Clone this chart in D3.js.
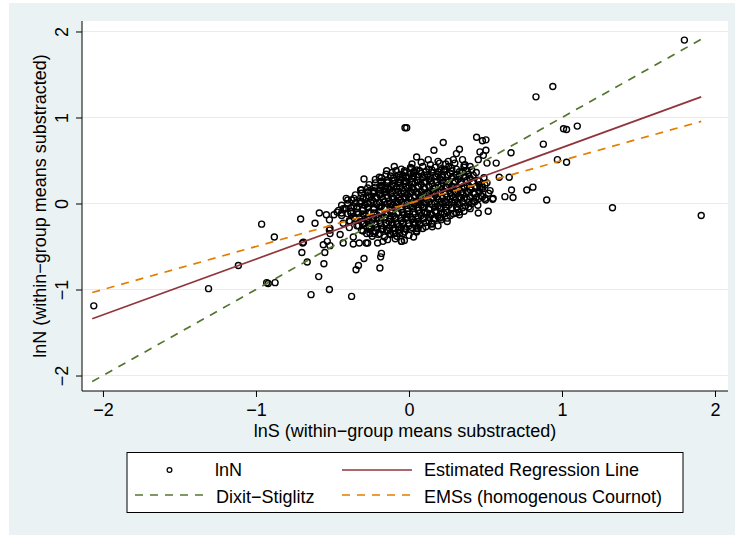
<!DOCTYPE html>
<html>
<head>
<meta charset="utf-8">
<script src="https://cdn.jsdelivr.net/npm/d3@7"></script>
<style>
  body { margin: 0; background: #ffffff; }
  svg text { font-family: "Liberation Sans", Arial, sans-serif; fill: #000; }
</style>
</head>
<body>
<svg id="chart" width="735" height="535"></svg>
<script>
// tick values
const xTicks = [-2, -1, 0, 1, 2];
const yTicks = [-2, -1, 0, 1, 2];

// fitted lines: lnN at the two ends of the lnS range
const lineX = [-2.07, 1.91];
const regY  = [-1.34, 1.24];    // estimated regression line
const dsY   = [-2.07, 1.91];    // Dixit-Stiglitz
const emsY  = [-1.035, 0.955];  // EMSs (homogenous Cournot)

// lnS, lnN pairs (within-group means substracted)
const outerPts = [
  [-2.06,-1.19],[-1.31,-0.99],[-1.115,-0.72],[-0.963,-0.24],[-0.93,-0.92],[-0.92,-0.93],[-0.875,-0.92],[-0.88,-0.39],
  [-0.708,-0.18],[-0.695,-0.46],[-0.69,-0.45],[-0.70,-0.57],[-0.665,-0.68],[-0.64,-1.06],[-0.614,-0.23],[-0.59,-0.85],
  [-0.586,-0.11],[-0.556,-0.70],[-0.52,-1.0],[-0.55,-0.57],[-0.56,-0.48],[-0.534,-0.44],[-0.516,-0.49],[-0.516,-0.35],
  [-0.516,-0.29],[-0.54,-0.13],[-0.49,-0.13],[-0.47,-0.10],[-0.52,-0.19],[-0.52,-0.31],
  [-0.375,-1.08],[-0.346,-0.77],[-0.33,-0.72],[-0.294,-0.64],[-0.43,-0.46],[-0.364,-0.47],[-0.325,-0.46],[-0.45,-0.36],
  [-0.364,-0.39],[-0.277,-0.35],[-0.28,-0.46],[-0.39,-0.28],[-0.33,-0.26],[-0.294,-0.23],[-0.41,-0.06],[-0.43,-0.23],
  [-0.386,-0.21],[-0.31,-0.31],[-0.43,-0.06],[-0.44,-0.11],
  [-0.27,-0.46],[-0.255,-0.35],[-0.205,-0.46],[-0.19,-0.75],[-0.18,-0.58],[-0.185,-0.62],[-0.17,-0.44],[-0.125,-0.35],
  [-0.10,-0.35],[-0.05,-0.44],[-0.23,-0.35],[-0.255,-0.26],[-0.19,-0.35],[-0.146,-0.31],[-0.09,-0.35],[-0.06,-0.35],
  [-0.026,-0.29],[-0.048,-0.44],
  [-0.026,0.88],[-0.015,0.88],[-0.294,0.285],[-0.194,0.305],[-0.183,0.25],[-0.146,0.38],[-0.096,0.43],[-0.085,0.38],
  [-0.059,0.305],[-0.015,0.305],[-0.316,0.157],[-0.41,0.06],[-0.375,0.04],[-0.266,0.137],[-0.235,0.12],[-0.19,0.157],
  [-0.157,0.175],[-0.124,0.165],[-0.08,0.19],[-0.059,0.235],[-0.026,0.255],
  [0.442,0.77],[0.48,0.73],[0.503,0.74],[0.224,0.71],[0.163,0.62],[0.05,0.54],[0.126,0.51],[0.33,0.63],[0.31,0.58],
  [0.29,0.51],[0.35,0.51],[0.464,0.6],[0.503,0.62],[0.486,0.56],[0.453,0.51],[0.51,0.47],[0.57,0.47],[0.667,0.59],
  [0.2,0.47],[0.257,0.49],[0.366,0.45],[0.4,0.43],[0.28,0.41],[0.235,0.39],[0.017,0.41],[0.03,0.35],[0.59,0.305],
  [0.655,0.305],[0.67,0.157],[0.77,0.157],[0.81,0.19],[0.497,0.215],[0.464,0.18],[0.627,0.08],[0.68,0.07],[0.55,0.06],
  [0.497,0.06],[0.9,0.04],[0.878,0.69],[0.547,0.05],[0.518,-0.09],[0.453,-0.11],[0.33,-0.13],[0.152,-0.27],[0.2,-0.17],
  [0.06,-0.29],[0.05,-0.33],
  [1.80,1.90],[0.94,1.36],[0.83,1.24],[1.01,0.87],[1.03,0.86],[1.10,0.90],[0.97,0.51],[1.03,0.48],[1.33,-0.05],[1.91,-0.14]
];

const corePts = [
  [0.02,0.46],[0.08,0.48],[0.14,0.45],[0.19,0.49],[0.24,0.46],[0.30,0.47],[0.36,0.44],
  [-0.05,0.40],[0.01,0.42],[0.05,0.39],[0.09,0.43],[0.13,0.40],[0.17,0.42],[0.21,0.39],[0.26,0.43],[0.31,0.40],[0.36,0.42],[0.41,0.39],
  [-0.15,0.34],[-0.11,0.36],[-0.07,0.33],[-0.03,0.36],[0.01,0.34],[0.04,0.37],[0.08,0.35],[0.12,0.33],[0.15,0.36],[0.19,0.34],
  [0.23,0.37],[0.27,0.35],[0.31,0.33],[0.35,0.36],[0.39,0.34],[0.44,0.36],
  [-0.22,0.28],[-0.18,0.30],[-0.14,0.27],[-0.10,0.30],[-0.06,0.28],[-0.02,0.31],[0.02,0.29],[0.05,0.27],[0.09,0.30],[0.13,0.28],
  [0.17,0.31],[0.20,0.29],[0.24,0.27],[0.28,0.30],[0.32,0.28],[0.36,0.31],[0.40,0.29],[0.45,0.27],[0.49,0.30],
  [-0.26,0.22],[-0.22,0.24],[-0.18,0.21],[-0.14,0.24],[-0.11,0.22],[-0.07,0.25],[-0.03,0.23],[0.00,0.21],[0.04,0.24],[0.08,0.22],
  [0.11,0.25],[0.15,0.23],[0.19,0.21],[0.22,0.24],[0.26,0.22],[0.30,0.25],[0.34,0.23],[0.38,0.21],[0.42,0.24],[0.46,0.22],[0.51,0.24],
  [-0.31,0.16],[-0.27,0.18],[-0.23,0.15],[-0.19,0.18],[-0.15,0.16],[-0.12,0.19],[-0.08,0.17],[-0.04,0.15],[-0.01,0.18],[0.03,0.16],
  [0.06,0.19],[0.10,0.17],[0.14,0.15],[0.17,0.18],[0.21,0.16],[0.25,0.19],[0.28,0.17],[0.32,0.15],[0.36,0.18],[0.40,0.16],
  [0.44,0.19],[0.48,0.17],[0.53,0.15],
  [-0.35,0.10],[-0.31,0.12],[-0.27,0.09],[-0.23,0.12],[-0.19,0.10],[-0.16,0.13],[-0.12,0.11],[-0.08,0.09],[-0.05,0.12],[-0.01,0.10],
  [0.02,0.13],[0.06,0.11],[0.09,0.09],[0.13,0.12],[0.17,0.10],[0.20,0.13],[0.24,0.11],[0.28,0.09],[0.31,0.12],[0.35,0.10],
  [0.39,0.13],[0.43,0.11],[0.47,0.09],[0.52,0.12],
  [-0.40,0.04],[-0.36,0.06],[-0.32,0.03],[-0.28,0.06],[-0.24,0.04],[-0.21,0.07],[-0.17,0.05],[-0.13,0.03],[-0.10,0.06],[-0.06,0.04],
  [-0.02,0.07],[0.01,0.05],[0.05,0.03],[0.08,0.06],[0.12,0.04],[0.16,0.07],[0.19,0.05],[0.23,0.03],[0.27,0.06],[0.30,0.04],
  [0.34,0.07],[0.38,0.05],[0.42,0.03],[0.46,0.06],[0.50,0.04],
  [-0.44,-0.02],[-0.40,0.00],[-0.36,-0.03],[-0.32,0.00],[-0.29,-0.02],[-0.25,0.01],[-0.21,-0.01],[-0.18,-0.03],[-0.14,0.00],
  [-0.10,-0.02],[-0.07,0.01],[-0.03,-0.01],[0.01,-0.03],[0.04,0.00],[0.08,-0.02],[0.11,0.01],[0.15,-0.01],[0.19,-0.03],
  [0.22,0.00],[0.26,-0.02],[0.30,0.01],[0.33,-0.01],[0.37,-0.03],[0.41,0.00],[0.45,-0.02],
  [-0.46,-0.08],[-0.42,-0.06],[-0.38,-0.09],[-0.34,-0.06],[-0.30,-0.08],[-0.27,-0.05],[-0.23,-0.07],[-0.19,-0.09],[-0.16,-0.06],
  [-0.12,-0.08],[-0.08,-0.05],[-0.05,-0.07],[-0.01,-0.09],[0.03,-0.06],[0.06,-0.08],[0.10,-0.05],[0.13,-0.07],[0.17,-0.09],
  [0.21,-0.06],[0.24,-0.08],[0.28,-0.05],[0.32,-0.07],[0.36,-0.09],[0.40,-0.06],
  [-0.44,-0.14],[-0.40,-0.12],[-0.36,-0.15],[-0.33,-0.12],[-0.29,-0.14],[-0.25,-0.11],[-0.21,-0.13],[-0.18,-0.15],[-0.14,-0.12],
  [-0.10,-0.14],[-0.07,-0.11],[-0.03,-0.13],[0.01,-0.15],[0.04,-0.12],[0.08,-0.14],[0.12,-0.11],[0.15,-0.13],[0.19,-0.15],
  [0.23,-0.12],[0.27,-0.14],[0.31,-0.11],
  [-0.39,-0.20],[-0.35,-0.18],[-0.31,-0.21],[-0.27,-0.18],[-0.24,-0.20],[-0.20,-0.17],[-0.16,-0.19],[-0.13,-0.21],[-0.09,-0.18],
  [-0.05,-0.20],[-0.02,-0.17],[0.02,-0.19],[0.06,-0.21],[0.09,-0.18],[0.13,-0.20],[0.17,-0.17],[0.21,-0.19],[0.25,-0.21],
  [-0.34,-0.26],[-0.30,-0.24],[-0.26,-0.27],[-0.22,-0.24],[-0.18,-0.26],[-0.15,-0.23],[-0.11,-0.25],[-0.07,-0.27],[-0.04,-0.24],
  [0.00,-0.26],[0.04,-0.23],[0.07,-0.25],[0.11,-0.27],[0.15,-0.24],[0.19,-0.26],
  [-0.30,-0.32],[-0.26,-0.30],[-0.22,-0.33],[-0.18,-0.30],[-0.14,-0.32],[-0.10,-0.29],[-0.07,-0.31],[-0.03,-0.33],[0.01,-0.30],
  [0.05,-0.32],[0.09,-0.29],
  [-0.24,-0.38],[-0.20,-0.36],[-0.16,-0.39],[-0.12,-0.36],[-0.08,-0.38],[-0.04,-0.35],[0.00,-0.37],[0.03,-0.39],
  [-0.14,-0.42],[-0.09,-0.41],[-0.03,-0.43]
];

// the thickest part of the cloud, between the rows above
const densePts = [
  [-0.03,0.38],[0.03,0.37],[0.07,0.38],[0.11,0.37],[0.15,0.39],[0.19,0.37],[0.23,0.40],[0.28,0.38],[0.33,0.37],[0.38,0.38],
  [-0.12,0.32],[-0.08,0.31],[-0.04,0.33],[0.00,0.31],[0.03,0.32],[0.06,0.31],[0.10,0.33],[0.14,0.31],[0.18,0.32],[0.22,0.31],
  [0.25,0.33],[0.29,0.31],[0.33,0.32],[0.37,0.31],[0.42,0.33],
  [-0.18,0.26],[-0.14,0.25],[-0.10,0.27],[-0.06,0.25],[-0.02,0.26],[0.02,0.25],[0.06,0.27],[0.10,0.25],[0.14,0.26],[0.18,0.25],
  [0.22,0.27],[0.26,0.25],[0.30,0.26],[0.34,0.25],[0.38,0.27],[0.42,0.25],[0.46,0.26],
  [-0.22,0.19],[-0.18,0.20],[-0.14,0.18],[-0.10,0.20],[-0.06,0.19],[-0.02,0.20],[0.02,0.18],[0.06,0.20],[0.10,0.19],[0.13,0.20],
  [0.17,0.18],[0.21,0.20],[0.24,0.19],[0.28,0.20],[0.32,0.18],[0.36,0.20],[0.40,0.19],[0.44,0.20],[0.48,0.19],
  [-0.27,0.13],[-0.23,0.14],[-0.19,0.12],[-0.15,0.14],[-0.11,0.13],[-0.07,0.14],[-0.03,0.12],[0.01,0.14],[0.05,0.13],[0.08,0.14],
  [0.12,0.12],[0.16,0.14],[0.19,0.13],[0.23,0.14],[0.27,0.12],[0.30,0.14],[0.34,0.13],[0.38,0.14],[0.42,0.12],[0.46,0.14],
  [-0.30,0.07],[-0.26,0.08],[-0.22,0.06],[-0.18,0.08],[-0.14,0.07],[-0.11,0.08],[-0.07,0.06],[-0.03,0.08],[0.00,0.07],[0.04,0.08],
  [0.07,0.06],[0.11,0.08],[0.15,0.07],[0.18,0.08],[0.22,0.06],[0.25,0.08],[0.29,0.07],[0.33,0.08],[0.36,0.06],[0.40,0.08],
  [0.44,0.07],[0.48,0.08],
  [-0.35,0.01],[-0.31,0.02],[-0.27,0.00],[-0.23,0.02],[-0.19,0.01],[-0.16,0.02],[-0.12,0.00],[-0.08,0.02],[-0.05,0.01],[-0.01,0.02],
  [0.03,0.00],[0.06,0.02],[0.10,0.01],[0.13,0.02],[0.17,0.00],[0.21,0.02],[0.24,0.01],[0.28,0.02],[0.32,0.00],[0.35,0.02],
  [0.39,0.01],[0.43,0.02],
  [-0.38,-0.05],[-0.34,-0.04],[-0.30,-0.06],[-0.27,-0.04],[-0.23,-0.05],[-0.19,-0.04],[-0.16,-0.06],[-0.12,-0.04],[-0.09,-0.05],
  [-0.05,-0.04],[-0.01,-0.06],[0.02,-0.04],[0.06,-0.05],[0.09,-0.04],[0.13,-0.06],[0.17,-0.04],[0.20,-0.05],[0.24,-0.04],
  [0.28,-0.06],[0.31,-0.04],[0.35,-0.05],[0.39,-0.04],
  [-0.38,-0.11],[-0.34,-0.10],[-0.30,-0.12],[-0.26,-0.10],[-0.23,-0.11],[-0.19,-0.10],[-0.15,-0.12],[-0.12,-0.10],[-0.08,-0.11],
  [-0.04,-0.10],[-0.01,-0.12],[0.03,-0.10],[0.07,-0.11],[0.10,-0.10],[0.14,-0.12],[0.18,-0.10],[0.21,-0.11],[0.25,-0.10],
  [0.29,-0.12],[0.33,-0.10],
  [-0.35,-0.17],[-0.31,-0.16],[-0.27,-0.18],[-0.23,-0.16],[-0.20,-0.17],[-0.16,-0.16],[-0.12,-0.18],[-0.09,-0.16],[-0.05,-0.17],
  [-0.01,-0.16],[0.02,-0.18],[0.06,-0.16],[0.10,-0.17],[0.13,-0.16],[0.17,-0.18],[0.21,-0.16],[0.25,-0.17],
  [-0.30,-0.23],[-0.26,-0.22],[-0.22,-0.24],[-0.19,-0.22],[-0.15,-0.23],[-0.11,-0.22],[-0.08,-0.24],[-0.04,-0.22],[0.00,-0.23],
  [0.03,-0.22],[0.07,-0.24],[0.11,-0.22],[0.15,-0.23],
  [-0.25,-0.29],[-0.21,-0.28],[-0.17,-0.30],[-0.13,-0.28],[-0.09,-0.29],[-0.05,-0.28],[-0.02,-0.30],[0.02,-0.28],[0.05,-0.29]
];

const legendLabels = ["lnN", "Estimated Regression Line", "Dixit\u2212Stiglitz", "EMSs (homogenous Cournot)"];

const W = 735, H = 535;
const plot = { left: 82, right: 728, top: 21, bottom: 391 };
const bg = "#eaf2f3";
const colReg = "#90353b", colDS = "#55752f", colEMS = "#e37e00";

const svg = d3.select("#chart");

// outer graph region
svg.append("rect").attr("x", 9).attr("y", 3).attr("width", W - 9).attr("height", H - 3).attr("fill", bg);
svg.append("rect")
  .attr("x", plot.left).attr("y", plot.top)
  .attr("width", plot.right - plot.left).attr("height", plot.bottom - plot.top)
  .attr("fill", "#fff");

const x = d3.scaleLinear().domain([-2.137, 2.085]).range([plot.left, plot.right]);
const y = d3.scaleLinear().domain([-2.18, 2.122]).range([plot.bottom, plot.top]);

// horizontal grid
svg.append("g").selectAll("line")
  .data(yTicks)
  .enter().append("line")
  .attr("x1", plot.left).attr("x2", plot.right)
  .attr("y1", d => y(d)).attr("y2", d => y(d))
  .attr("stroke", "#e4ecef").attr("stroke-width", 1.2);

// scatter
const g = svg.append("g");
g.selectAll("circle")
  .data(outerPts.concat(corePts, densePts))
  .enter().append("circle")
  .attr("cx", d => x(d[0]))
  .attr("cy", d => y(d[1]))
  .attr("r", 3)
  .attr("fill", "none")
  .attr("stroke", "#000")
  .attr("stroke-width", 1.4);

// lines
const lines = [
  { ys: regY, color: colReg, dash: null },
  { ys: dsY,  color: colDS,  dash: "8,7" },
  { ys: emsY, color: colEMS, dash: "8,7" }
];
lines.forEach(l => {
  svg.append("line")
    .attr("x1", x(lineX[0])).attr("y1", y(l.ys[0]))
    .attr("x2", x(lineX[1])).attr("y2", y(l.ys[1]))
    .attr("stroke", l.color)
    .attr("stroke-width", 1.7)
    .attr("stroke-dasharray", l.dash);
});

// axes
const fmt = d3.format("d");
const xAxis = svg.append("g")
  .attr("transform", `translate(0,${plot.bottom})`)
  .call(d3.axisBottom(x).tickValues(xTicks).tickFormat(fmt).tickSize(6).tickPadding(6).tickSizeOuter(0));
xAxis.select(".domain").attr("stroke", "#000").attr("d", `M${plot.left},0H${plot.right}`);
xAxis.selectAll("text").style("font-size", "18px").attr("fill", "#000");

const yAxis = svg.append("g")
  .attr("transform", `translate(${plot.left},0)`)
  .call(d3.axisLeft(y).tickValues(yTicks).tickFormat(fmt).tickSize(6).tickSizeOuter(0));
yAxis.select(".domain").attr("stroke", "#000").attr("d", `M0,${plot.top}V${plot.bottom}`);
yAxis.selectAll("text")
  .style("font-size", "18px")
  .style("text-anchor", "middle")
  .attr("transform", "rotate(-90)")
  .attr("x", 0).attr("y", -14).attr("dy", "0");

// axis titles
svg.append("text")
  .attr("x", (plot.left + plot.right) / 2).attr("y", 437)
  .attr("text-anchor", "middle")
  .style("font-size", "18px")
  .text("lnS (within\u2212group means substracted)");

svg.append("text")
  .attr("transform", `translate(46,${(plot.top + plot.bottom) / 2}) rotate(-90)`)
  .attr("text-anchor", "middle")
  .style("font-size", "18px")
  .text("lnN (within\u2212group means substracted)");

// legend
const lg = svg.append("g");
lg.append("rect")
  .attr("x", 127).attr("y", 452.5).attr("width", 556).attr("height", 60)
  .attr("fill", "#fff").attr("stroke", "#000").attr("stroke-width", 1);

lg.append("circle").attr("cx", 169.5).attr("cy", 470).attr("r", 2.4)
  .attr("fill", "none").attr("stroke", "#000").attr("stroke-width", 1.2);
lg.append("line").attr("x1", 342).attr("x2", 412).attr("y1", 470).attr("y2", 470)
  .attr("stroke", colReg).attr("stroke-width", 1.7);
lg.append("line").attr("x1", 135).attr("x2", 205).attr("y1", 495).attr("y2", 495)
  .attr("stroke", colDS).attr("stroke-width", 1.7).attr("stroke-dasharray", "8,7");
lg.append("line").attr("x1", 342).attr("x2", 412).attr("y1", 495).attr("y2", 495)
  .attr("stroke", colEMS).attr("stroke-width", 1.7).attr("stroke-dasharray", "8,7");

const legendPos = [[215, 476], [424, 476], [216, 503], [424, 503]];
lg.selectAll("text.lab")
  .data(legendLabels)
  .enter().append("text")
  .attr("class", "lab")
  .attr("x", (d, i) => legendPos[i][0])
  .attr("y", (d, i) => legendPos[i][1])
  .style("font-size", "18px")
  .text(d => d);
</script>
</body>
</html>
